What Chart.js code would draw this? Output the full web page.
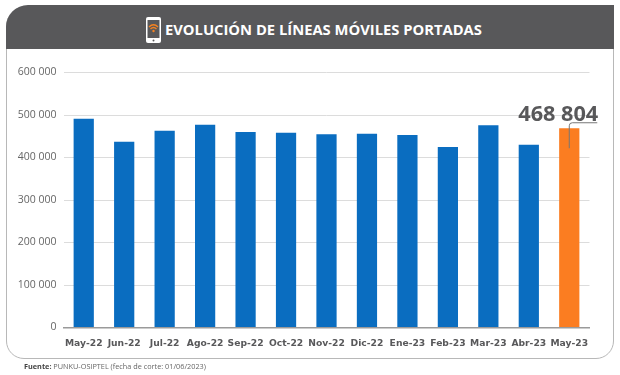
<!DOCTYPE html>
<html>
<head>
<meta charset="utf-8">
<script src="https://cdn.jsdelivr.net/npm/chart.js@4"></script>
<style>
html, body { margin: 0; padding: 0; background: #fff; }
#page { position: relative; width: 620px; height: 375px; overflow: hidden; }
#card { position: absolute; left: 6px; top: 6px; width: 608px; height: 353px; border: 1.5px solid #b8b8b8; border-radius: 20px 0 18px 18px; box-sizing: border-box; }
#head { position: absolute; left: 6px; top: 5px; width: 608px; height: 44px; background: #58585a; border-radius: 22px 0 0 0; }
#head span { position: absolute; left: 159px; top: 14px; font: 700 14.75px "Open Sans", sans-serif; color: #fff; white-space: nowrap; }
#head svg { position: absolute; left: 139px; top: 11px; }
#source { position: absolute; left: 24px; top: 361px; font: 7.3px "Open Sans", sans-serif; color: #666; white-space: nowrap; }
#source b { color: #444; }
canvas { position: absolute; left: 0; top: 0; }
</style>
</head>
<body>
<div id="page">
    <div id="card"></div>
    <div id="head">
        <svg width="18" height="28" viewBox="0 0 18 28">
            <rect x="1" y="1" width="15" height="26" rx="2" fill="#fff"/>
            <rect x="2.5" y="4" width="12" height="18" fill="#58585a"/>
            <circle cx="8.5" cy="24.5" r="1" fill="#58585a"/>
            <path d="M4 11 Q8.5 6.5 13 11 M5.5 13 Q8.5 10 11.5 13" stroke="#f58220" stroke-width="1.4" fill="none"/>
            <circle cx="8.5" cy="15" r="1.2" fill="#f58220"/>
        </svg>
        <span>EVOLUCIÓN DE LÍNEAS MÓVILES PORTADAS</span>
    </div>
    <canvas id="portadasChart" width="620" height="375"></canvas>
    <div id="source"><b>Fuente:</b> PUNKU-OSIPTEL (fecha de corte: 01/06/2023)</div>
</div>
<script>
const categories = ['May-22', 'Jun-22', 'Jul-22', 'Ago-22', 'Sep-22', 'Oct-22', 'Nov-22', 'Dic-22', 'Ene-23', 'Feb-23', 'Mar-23', 'Abr-23', 'May-23'];
const lineas = [491000, 437000, 463000, 477000, 460000, 458000, 455000, 456000, 453000, 425000, 476000, 430000, 468804];
const barColors = ['#0a6dc0', '#0a6dc0', '#0a6dc0', '#0a6dc0', '#0a6dc0', '#0a6dc0', '#0a6dc0', '#0a6dc0', '#0a6dc0', '#0a6dc0', '#0a6dc0', '#0a6dc0', '#fb7d21'];

function formatMiles(value) {
    return String(value).replace(/\B(?=(\d{3})+$)/g, ' ');
}

// big label over the last bar, with its leader line
const lastBarLabel = {
    id: 'lastBarLabel',
    afterDatasetsDraw(chart) {
        const ctx = chart.ctx;
        const last = lineas.length - 1;
        const bar = chart.getDatasetMeta(0).data[last];
        const lineY = bar.y - 5.5;

        ctx.save();
        ctx.strokeStyle = '#777';
        ctx.lineWidth = 1;
        ctx.beginPath();
        ctx.moveTo(bar.x, bar.y + 20);
        ctx.lineTo(bar.x, lineY + 3);
        ctx.quadraticCurveTo(bar.x, lineY, bar.x + 3, lineY);
        ctx.lineTo(bar.x + 28, lineY);
        ctx.stroke();

        ctx.fillStyle = '#58585a';
        ctx.font = '700 21.7px "Open Sans", sans-serif';
        ctx.textAlign = 'right';
        ctx.textBaseline = 'alphabetic';
        ctx.fillText(formatMiles(lineas[last]), bar.x + 29, lineY - 1.5);
        ctx.restore();
    }
};

new Chart(document.getElementById('portadasChart').getContext('2d'), {
    type: 'bar',
    data: {
        labels: categories,
        datasets: [{
            data: lineas,
            backgroundColor: barColors,
            categoryPercentage: 1,
            barPercentage: 0.5
        }]
    },
    options: {
        responsive: false,
        animation: false,
        layout: { padding: { top: 72.5, right: 30.5 } },
        plugins: {
            legend: { display: false },
            tooltip: { enabled: false }
        },
        scales: {
            x: {
                afterFit(axis) { axis.height = 47.5; },
                grid: { display: false },
                border: { color: '#9a9a9a', width: 1.5 },
                ticks: {
                    color: '#58585a',
                    font: { family: 'DejaVu Sans', size: 9.2, weight: 'bold' },
                    padding: 3,
                    maxRotation: 0,
                    autoSkip: false
                }
            },
            y: {
                min: 0,
                max: 600000,
                afterFit(axis) { axis.width = 63.5; },
                grid: { color: '#dcdcdc', drawTicks: false },
                border: { display: false },
                ticks: {
                    stepSize: 100000,
                    color: '#666',
                    font: { family: 'Open Sans', size: 10.5 },
                    padding: 7,
                    callback: value => formatMiles(value)
                }
            }
        }
    },
    plugins: [lastBarLabel]
});
</script>
</body>
</html>
